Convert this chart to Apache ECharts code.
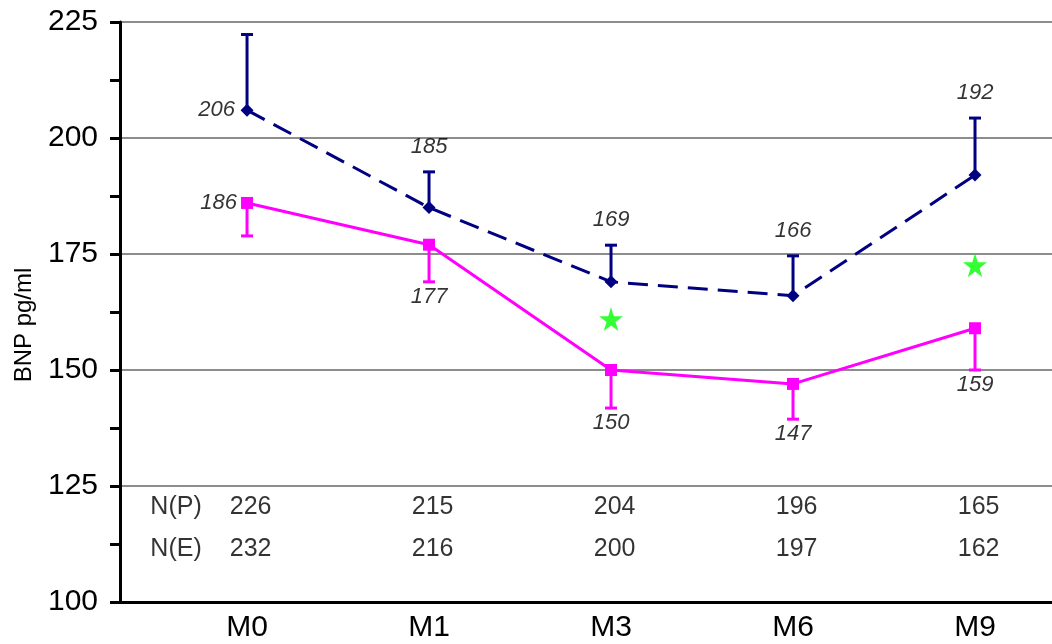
<!DOCTYPE html>
<html>
<head>
<meta charset="utf-8">
<script src="https://cdn.jsdelivr.net/npm/echarts@6/dist/echarts.min.js"></script>
<style>html,body{margin:0;padding:0;background:#fff}#c{width:1052px;height:644px}</style>
</head>
<body>
<div id="c"></div>
<script>
const categories = ['M0', 'M1', 'M3', 'M6', 'M9'];
const yTicks = [100, 125, 150, 175, 200, 225];
// navy dashed series (upper) and its upper error bar ends
const seriesE = [206, 185, 169, 166, 192];
const errE = [222.3, 192.7, 176.9, 174.6, 204.3];
// magenta solid series (lower) and its lower error bar ends
const seriesP = [186, 177, 150, 147, 159];
const errP = [178.9, 169, 141.8, 139.4, 150];
// significance stars
const starIndex = [2, 4];
const starValues = [161, 172.6];
// sample sizes
const nP = [226, 215, 204, 196, 165];
const nE = [232, 216, 200, 197, 162];
const rowNames = ['N(P)', 'N(E)'];

const NAVY = '#000080', MAGENTA = '#ff00ff', GREEN = '#00ff00';
const FONT = 'Liberation Sans, Arial, sans-serif';
const ROW_P_Y = 120.4, ROW_E_Y = 111.5, ROW_NAME_X = -0.39;
const STAR = 'path://M50,0 L61,35 L98,35 L68,57 L79,91 L50,70 L21,91 L32,57 L2,35 L39,35 Z';

function errBar(color) {
  return function (params, api) {
    const x = api.value(0), v = api.value(1), e = api.value(2);
    const p0 = api.coord([x, v]), p1 = api.coord([x, e]);
    return {
      type: 'group',
      children: [
        { type: 'line', shape: { x1: p0[0], y1: p0[1], x2: p1[0], y2: p1[1] }, style: { stroke: color, lineWidth: 3 } },
        { type: 'line', shape: { x1: p1[0] - 6, y1: p1[1], x2: p1[0] + 6, y2: p1[1] }, style: { stroke: color, lineWidth: 3 } }
      ]
    };
  };
}

const labelStyle = { fontFamily: FONT, fontSize: 22, fontStyle: 'italic', color: '#000', textBorderWidth: 0 };

const labelsE = seriesE.map((v, i) => i === 0
  ? { value: [i, v, v], label: { position: 'left', distance: 12 } }
  : { value: [i, errE[i], v], label: { position: 'top', distance: 14 } });
const labelsP = seriesP.map((v, i) => i === 0
  ? { value: [i, v, v], label: { position: 'left', distance: 10 } }
  : { value: [i, errP[i], v], label: { position: 'bottom', distance: 4 } });

const nStyle = { fontFamily: FONT, fontSize: 25, color: '#000', textBorderWidth: 0 };

const chart = echarts.init(document.getElementById('c'));
chart.setOption({
  animation: false,
  backgroundColor: '#fff',
  grid: { left: 120, right: 0, top: 22, bottom: 42 },
  xAxis: {
    type: 'value', min: -0.698, max: 4.423,
    axisLine: { show: true, onZero: false, lineStyle: { color: '#000', width: 3 } },
    axisTick: { show: false },
    splitLine: { show: false },
    axisLabel: {
      customValues: [0, 1, 2, 3, 4],
      formatter: v => categories[Math.round(v)],
      fontFamily: FONT, fontSize: 30, color: '#000', margin: 11
    }
  },
  yAxis: {
    type: 'value', min: yTicks[0], max: yTicks[yTicks.length - 1], interval: 25,
    name: 'BNP pg/ml', nameLocation: 'middle', nameGap: 84, nameRotate: 90,
    nameTextStyle: { fontFamily: FONT, fontSize: 24, color: '#000', padding: [0, 0, 0, -26] },
    axisLine: { show: true, onZero: false, lineStyle: { color: '#000', width: 3 } },
    axisTick: { show: true, length: 10, lineStyle: { color: '#000', width: 3 } },
    minorTick: { show: true, splitNumber: 2, length: 10, lineStyle: { color: '#000', width: 3 } },
    splitLine: { show: true, lineStyle: { color: '#666', width: 1.5 } },
    axisLabel: { fontFamily: FONT, fontSize: 30, color: '#000', margin: 22 }
  },
  series: [
    {
      type: 'custom', renderItem: errBar(NAVY), encode: { x: 0, y: [1, 2] },
      data: seriesE.map((v, i) => [i, v, errE[i]]), z: 3, silent: true
    },
    {
      type: 'custom', renderItem: errBar(MAGENTA), encode: { x: 0, y: [1, 2] },
      data: seriesP.map((v, i) => [i, v, errP[i]]), z: 3, silent: true
    },
    {
      type: 'line', data: seriesE.map((v, i) => [i, v]),
      lineStyle: { color: NAVY, width: 3, type: [20, 10] },
      itemStyle: { color: NAVY }, symbol: 'diamond', symbolSize: 13, showAllSymbol: true, z: 4
    },
    {
      type: 'line', data: seriesP.map((v, i) => [i, v]),
      lineStyle: { color: MAGENTA, width: 3 },
      itemStyle: { color: MAGENTA }, symbol: 'rect', symbolSize: 12, showAllSymbol: true, z: 4
    },
    {
      type: 'scatter', data: starIndex.map((x, k) => [x, starValues[k]]),
      symbol: STAR, symbolSize: 24, itemStyle: { color: GREEN }, z: 5
    },
    {
      type: 'scatter', data: labelsE, symbolSize: 0, silent: true,
      label: Object.assign({ show: true, formatter: p => String(p.value[2]) }, labelStyle)
    },
    {
      type: 'scatter', data: labelsP, symbolSize: 0, silent: true,
      label: Object.assign({ show: true, formatter: p => String(p.value[2]) }, labelStyle)
    },
    {
      type: 'scatter', symbolSize: 0, silent: true,
      data: nP.map((n, i) => [i + 0.02, ROW_P_Y, n]).concat(nE.map((n, i) => [i + 0.02, ROW_E_Y, n])),
      label: Object.assign({ show: true, position: 'inside', formatter: p => String(p.value[2]) }, nStyle)
    },
    {
      type: 'scatter', symbolSize: 0, silent: true,
      data: [[ROW_NAME_X, ROW_P_Y, rowNames[0]], [ROW_NAME_X, ROW_E_Y, rowNames[1]]],
      label: Object.assign({ show: true, position: 'inside', formatter: p => p.value[2] }, nStyle)
    }
  ]
});
</script>
</body>
</html>
